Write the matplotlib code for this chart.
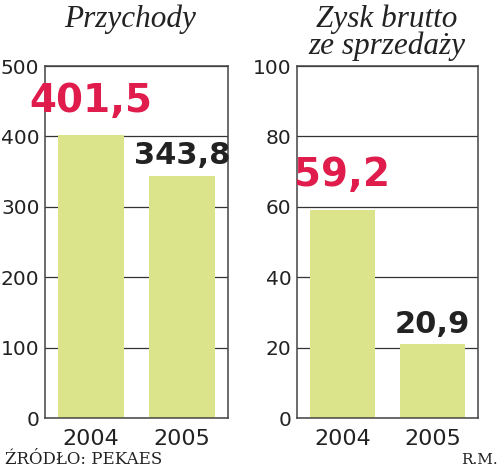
import matplotlib.pyplot as plt

# data
years = ['2004', '2005']
przychody = [401.5, 343.8]
zysk = [59.2, 20.9]
title_left = 'Przychody'
title_right = 'Zysk brutto\nze sprzedaży'
yticks_left = [0, 100, 200, 300, 400, 500]
yticks_right = [0, 20, 40, 60, 80, 100]

bar_color = '#dbe48b'
red = '#e01c4c'
dark = '#222222'

fig = plt.figure(figsize=(5, 4.76), dpi=100)
ax1 = fig.add_axes([0.09, 0.1218, 0.366, 0.7395])
ax2 = fig.add_axes([0.594, 0.1218, 0.362, 0.7395])


def draw_panel(ax, values, ticks):
    x = range(len(values))
    ax.bar(x, values, width=0.72, color=bar_color, zorder=2)
    ax.set_xlim(-0.5, 1.5)
    ax.set_ylim(ticks[0], ticks[-1])
    ax.set_yticks(ticks)
    ax.set_xticks(list(x))
    ax.set_xticklabels(years)
    ax.tick_params(axis='both', length=0, pad=4, labelsize=14.5, labelcolor=dark)
    ax.tick_params(axis='x', labelsize=16, pad=8)
    ax.yaxis.grid(True, color='#333333', linewidth=0.9, zorder=0)
    ax.set_axisbelow(True)
    for s in ax.spines.values():
        s.set_color('#444444')
        s.set_linewidth(1.1)
    # value labels: first year in red, second in black
    ax.annotate(f'{values[0]:.1f}'.replace('.', ','), (0, values[0]),
                xytext=(0, 17), textcoords='offset points', ha='center',
                va='baseline', fontsize=28, fontweight='bold', color=red,
                zorder=3)
    ax.annotate(f'{values[1]:.1f}'.replace('.', ','), (1, values[1]),
                xytext=(0, 8.5), textcoords='offset points', ha='center',
                va='baseline', fontsize=22, fontweight='bold', color=dark,
                zorder=3)


draw_panel(ax1, przychody, yticks_left)
draw_panel(ax2, zysk, yticks_right)

title_kw = dict(fontsize=22.5, style='italic', family='Liberation Serif',
                color=dark, ha='center')
fig.text(0.26, 1 - 27 / 476, title_left, va='baseline', **title_kw)
fig.text(0.774, 1 - 5 / 476, title_right, va='top', linespacing=0.88,
         **title_kw)

fig.text(0.01, 0.025, 'ŹRÓDŁO: PEKAES', fontsize=12, family='DejaVu Serif',
         color=dark, ha='left', va='baseline')
fig.text(0.995, 0.025, 'R.M.', fontsize=11, family='DejaVu Serif',
         color=dark, ha='right', va='baseline')

fig.savefig('out.png', dpi=100)
